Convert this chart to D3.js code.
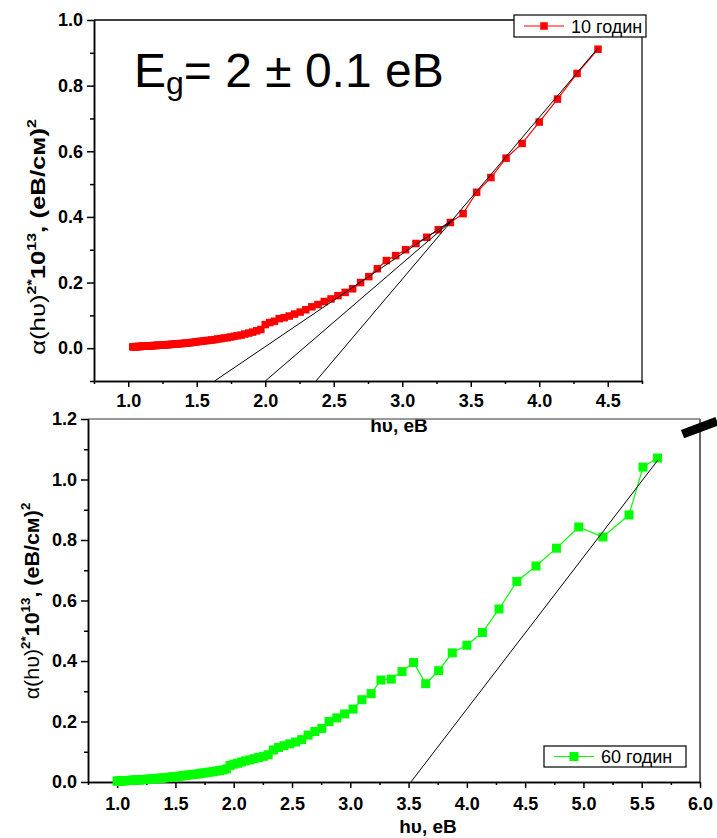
<!DOCTYPE html>
<html lang="en">
<head>
    <meta charset="UTF-8">
    <title>Tauc plots, 10 and 60 hours</title>
    <script src="https://d3js.org/d3.v7.min.js"></script>
    <style>
        body { margin: 0; background: #fff; }
        svg { display: block; font-family: 'Liberation Sans', Arial, sans-serif; }
        .axis path, .axis line { stroke: #000; stroke-width: 1.5; }
        .axis text { font-size: 18px; font-weight: bold; fill: #000; font-family: 'Liberation Sans', Arial, sans-serif; }
    </style>
</head>
<body>
<svg width="717" height="838"></svg>
<script>
    // 10 hours sample (red)
    const hv10 = [1.033, 1.042, 1.051, 1.060, 1.069, 1.078, 1.088, 1.097, 1.107, 1.117,
      1.127, 1.138, 1.148, 1.159, 1.170, 1.181, 1.192, 1.204, 1.216, 1.228,
      1.240, 1.253, 1.265, 1.278, 1.292, 1.305, 1.319, 1.333, 1.348, 1.363,
      1.378, 1.393, 1.409, 1.425, 1.442, 1.459, 1.476, 1.494, 1.512, 1.531,
      1.550, 1.570, 1.590, 1.610, 1.632, 1.653, 1.676, 1.699, 1.722, 1.746,
      1.771, 1.797, 1.824, 1.851, 1.879, 1.908, 1.938, 1.968,
      2.000, 2.033, 2.067, 2.102, 2.138, 2.175, 2.214, 2.255, 2.296, 2.340,
      2.385, 2.431, 2.480, 2.531, 2.583, 2.638, 2.696, 2.756, 2.818, 2.884,
      2.952, 3.024, 3.100, 3.179, 3.263, 3.351, 3.444, 3.543, 3.647, 3.758,
      3.875, 4.000, 4.133, 4.276, 4.429]
    const a10 = [0.004, 0.004, 0.004, 0.005, 0.005, 0.005, 0.005, 0.006, 0.006, 0.006,
      0.006, 0.007, 0.007, 0.007, 0.007, 0.008, 0.008, 0.008, 0.009, 0.009,
      0.009, 0.010, 0.010, 0.010, 0.011, 0.011, 0.012, 0.012, 0.013, 0.013,
      0.014, 0.014, 0.015, 0.016, 0.016, 0.017, 0.018, 0.019, 0.020, 0.021,
      0.022, 0.023, 0.024, 0.025, 0.026, 0.028, 0.029, 0.031, 0.032, 0.034,
      0.036, 0.038, 0.040, 0.043, 0.046, 0.049, 0.053, 0.057,
      0.072, 0.078, 0.082, 0.090, 0.093, 0.098, 0.104, 0.110, 0.117, 0.126,
      0.133, 0.142, 0.150, 0.160, 0.170, 0.181, 0.200, 0.218, 0.242, 0.267,
      0.282, 0.300, 0.319, 0.338, 0.361, 0.383, 0.410, 0.475, 0.520, 0.579,
      0.624, 0.689, 0.759, 0.837, 0.911]
    // tangent lines, [x1, y1, x2, y2]
    const fits10 = [[1.63, -0.1, 3.38, 0.395], [2.0, -0.1, 3.38, 0.395], [2.37, -0.1, 4.43, 0.915]]

    // 60 hours sample (green)
    const hv60 = [1.000, 1.008, 1.016, 1.025, 1.033, 1.042, 1.051, 1.060, 1.069, 1.078,
      1.088, 1.097, 1.107, 1.117, 1.127, 1.138, 1.148, 1.159, 1.170, 1.181,
      1.192, 1.204, 1.216, 1.228, 1.240, 1.253, 1.265, 1.278, 1.292, 1.305,
      1.319, 1.333, 1.348, 1.363, 1.378, 1.393, 1.409, 1.425, 1.442, 1.459,
      1.476, 1.494, 1.512, 1.531, 1.550, 1.570, 1.590, 1.610, 1.632, 1.653,
      1.676, 1.699, 1.722, 1.746, 1.771, 1.797, 1.824, 1.851, 1.879, 1.908,
      1.938, 1.968, 2.000, 2.033, 2.067, 2.102, 2.138, 2.175, 2.214, 2.255,
      2.296, 2.340, 2.385, 2.431, 2.480, 2.531, 2.583, 2.638, 2.696, 2.756,
      2.818, 2.884, 2.952, 3.024, 3.100, 3.179, 3.263, 3.351, 3.444, 3.543,
      3.647, 3.758, 3.875, 4.000, 4.133, 4.276, 4.429, 4.593, 4.769, 4.960,
      5.167, 5.391, 5.511, 5.636]
    const a60 = [0.003, 0.003, 0.003, 0.003, 0.004, 0.004, 0.004, 0.004, 0.004, 0.005,
      0.005, 0.005, 0.005, 0.005, 0.006, 0.006, 0.006, 0.006, 0.007, 0.007,
      0.007, 0.007, 0.008, 0.008, 0.008, 0.009, 0.009, 0.009, 0.010, 0.010,
      0.011, 0.011, 0.012, 0.012, 0.013, 0.013, 0.014, 0.015, 0.015, 0.016,
      0.017, 0.017, 0.018, 0.019, 0.020, 0.021, 0.022, 0.023, 0.024, 0.025,
      0.026, 0.027, 0.029, 0.030, 0.031, 0.033, 0.034, 0.036, 0.038, 0.040,
      0.043, 0.055, 0.059, 0.062, 0.066, 0.070, 0.073, 0.077, 0.081, 0.085,
      0.090, 0.106, 0.114, 0.120, 0.126, 0.132, 0.140, 0.155, 0.167, 0.177,
      0.200, 0.212, 0.225, 0.241, 0.272, 0.292, 0.337, 0.340, 0.365, 0.395,
      0.325, 0.368, 0.427, 0.452, 0.494, 0.572, 0.663, 0.714, 0.773, 0.843,
      0.810, 0.883, 1.041, 1.071]
    const fits60 = [[3.52, 0.0, 5.64, 1.065]]

    const xTicks10 = [1.0, 1.5, 2.0, 2.5, 3.0, 3.5, 4.0, 4.5]
    const yTicks10 = [0.0, 0.2, 0.4, 0.6, 0.8, 1.0]
    const xTicks60 = [1.0, 1.5, 2.0, 2.5, 3.0, 3.5, 4.0, 4.5, 5.0, 5.5, 6.0]
    const yTicks60 = [0.0, 0.2, 0.4, 0.6, 0.8, 1.0, 1.2]

    const svg = d3.select('svg')
    const fmt = d3.format('.1f')

    function panel(o) {
      const x = d3.scaleLinear().domain(o.xDomain).range([o.left, o.right])
      const y = d3.scaleLinear().domain(o.yDomain).range([o.bottom, o.top])
      const g = svg.append('g')
      const pts = o.hv.map((v, i) => [v, o.a[i]])

      // frame top/right
      g.append('line').attr('x1', o.left).attr('x2', o.right).attr('y1', o.top).attr('y2', o.top)
        .attr('stroke', o.topColor).attr('stroke-width', 1.5)
      g.append('line').attr('x1', o.right).attr('x2', o.right).attr('y1', o.top).attr('y2', o.bottom)
        .attr('stroke', '#666').attr('stroke-width', 2)

      // minor ticks
      const xMinor = d3.range(o.xDomain[0], o.xDomain[1] + 1e-9, 0.25).filter(v => Math.abs(v * 2 - Math.round(v * 2)) > 1e-6)
      const yMinor = d3.range(-0.1, o.yDomain[1], 0.2).filter(v => v >= o.yDomain[0] - 1e-9)
      g.append('g').attr('class', 'axis').attr('transform', `translate(0,${o.bottom})`)
        .call(d3.axisBottom(x).tickValues(xMinor).tickSize(3).tickSizeOuter(0).tickFormat(''))
      g.append('g').attr('class', 'axis').attr('transform', `translate(${o.left},0)`)
        .call(d3.axisLeft(y).tickValues(yMinor).tickSize(4).tickSizeOuter(0).tickFormat(''))

      g.append('g').attr('class', 'axis').attr('transform', `translate(0,${o.bottom})`)
        .call(d3.axisBottom(x).tickValues(o.xTicks).tickSize(6).tickSizeOuter(0).tickPadding(o.xPad).tickFormat(fmt))
      g.append('g').attr('class', 'axis').attr('transform', `translate(${o.left},0)`)
        .call(d3.axisLeft(y).tickValues(o.yTicks).tickSize(7).tickSizeOuter(0).tickPadding(4).tickFormat(fmt))

      // data
      g.append('path').datum(pts)
        .attr('fill', 'none').attr('stroke', o.color).attr('stroke-width', 1.2)
        .attr('d', d3.line().x(d => x(d[0])).y(d => y(d[1])))
      g.selectAll('rect.pt').data(pts).join('rect')
        .attr('x', d => x(d[0]) - o.ms / 2).attr('y', d => y(d[1]) - o.ms / 2)
        .attr('width', o.ms).attr('height', o.ms).attr('fill', o.color)

      g.selectAll('line.fit').data(o.fits).join('line')
        .attr('x1', d => x(d[0])).attr('y1', d => y(d[1]))
        .attr('x2', d => x(d[2])).attr('y2', d => y(d[3]))
        .attr('stroke', '#000').attr('stroke-width', 1)

      // legend
      const lg = g.append('g').attr('transform', `translate(${o.legend[0]},${o.legend[1]})`)
      lg.append('rect').attr('width', o.legend[2]).attr('height', o.legend[3])
        .attr('fill', '#fff').attr('stroke', '#000').attr('stroke-width', 1.2)
      const my = o.legend[3] / 2
      lg.append('line').attr('x1', 10).attr('x2', 50).attr('y1', my).attr('y2', my)
        .attr('stroke', o.color).attr('stroke-width', 1.2)
      lg.append('rect').attr('x', 30 - o.ms / 2).attr('y', my - o.ms / 2)
        .attr('width', o.ms).attr('height', o.ms).attr('fill', o.color)
      lg.append('text').attr('x', 57).attr('y', my + 6.5)
        .style('font-size', '18px').text(o.label)

      // axis titles
      svg.append('text').attr('x', o.xTitle[0]).attr('y', o.xTitle[1])
        .attr('text-anchor', 'middle').style('font-size', '19px').style('font-weight', 'bold')
        .text('hυ, eB')

      const s = o.yTitleSize
      const t = svg.append('text')
        .attr('text-anchor', 'middle').style('font-size', s + 'px').style('font-weight', 'bold')
      t.append('tspan').style('font-weight', 'normal').text('α(hυ)')
      t.append('tspan').attr('dy', -0.45 * s).style('font-size', (0.62 * s) + 'px').text('2*')
      t.append('tspan').attr('dy', 0.45 * s).text('10')
      t.append('tspan').attr('dy', -0.45 * s).style('font-size', (0.62 * s) + 'px').text('13')
      t.append('tspan').attr('dy', 0.45 * s).text(', (eB/см)')
      t.append('tspan').attr('dy', -0.45 * s).style('font-size', (0.62 * s) + 'px').text('2')
      // stretch along the text so it spans the same length as in the original
      const k = o.yTitleLen / t.node().getBBox().width
      t.attr('transform', `translate(${o.yTitle[0]},${o.yTitle[1]}) rotate(-90) scale(${k},1)`)

      return { x, y }
    }

    panel({
      hv: hv10, a: a10, fits: fits10, color: '#ff0000', ms: 7.5,
      xDomain: [0.75, 4.75], yDomain: [-0.1, 1.0],
      left: 94, right: 642, top: 20, bottom: 381, topColor: '#000',
      xTicks: xTicks10, yTicks: yTicks10, xPad: 7,
      legend: [514, 15, 132, 22], label: '10 годин',
      xTitle: [399, 432], yTitle: [45, 237], yTitleSize: 20, yTitleLen: 236
    })

    const p60 = panel({
      hv: hv60, a: a60, fits: fits60, color: '#00ff00', ms: 9,
      xDomain: [0.75, 6.0], yDomain: [0, 1.2],
      left: 88, right: 700, top: 419, bottom: 782, topColor: '#777',
      xTicks: xTicks60, yTicks: yTicks60, xPad: 9,
      legend: [544, 746, 142, 21], label: '60 годин',
      xTitle: [428, 833], yTitle: [39, 601], yTitleSize: 19.5, yTitleLen: 197
    })

    // band gap annotation
    const eg = svg.append('text').attr('x', 134).attr('y', 87).style('font-size', '48px')
    eg.append('tspan').text('E')
    eg.append('tspan').attr('dy', 7).style('font-size', '32px').text('g')
    eg.append('tspan').attr('dy', -7).text('= 2 ± 0.1 eB')

    // stray black stroke at the top-right corner of the lower frame
    svg.append('line')
      .attr('x1', p60.x(5.85)).attr('y1', p60.y(1.15))
      .attr('x2', 717).attr('y2', p60.y(1.193))
      .attr('stroke', '#000').attr('stroke-width', 9)
</script>
</body>
</html>
